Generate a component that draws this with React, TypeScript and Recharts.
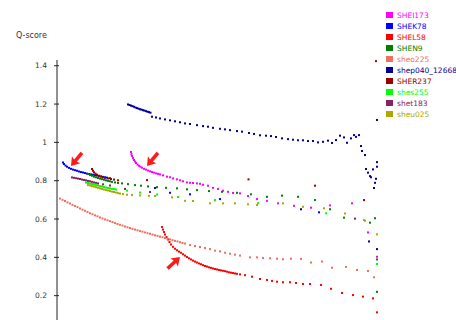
import {
  ScatterChart,
  Scatter,
  XAxis,
  YAxis,
  Legend,
  ReferenceDot,
} from "recharts";

// [position, Q-score] pairs
const shei173: [number, number][] = [
  [74, 0.95], [74.5, 0.939], [75, 0.929], [76, 0.918], [77, 0.908], [78, 0.9], [79, 0.892],
  [80.5, 0.884], [82, 0.878], [83.5, 0.873], [85, 0.868], [87, 0.862], [89, 0.858], [91, 0.853],
  [93, 0.849], [95, 0.845], [97, 0.842], [99, 0.838], [101, 0.836], [103, 0.833],
  [106, 0.828], [110, 0.821], [113, 0.818], [116, 0.812], [120, 0.807], [123, 0.802], [126, 0.797],
  [130, 0.791], [133, 0.789], [136, 0.788], [140, 0.786], [143, 0.784], [146, 0.779], [151, 0.774],
  [156, 0.763], [161, 0.757], [166, 0.748], [171, 0.742], [176, 0.736], [183, 0.734], [191, 0.72],
  [200, 0.704], [210, 0.695], [221, 0.682], [237, 0.669], [254, 0.659], [273, 0.671], [295, 0.682],
  [311, 0.53], [320, 0.403],
];

const shek78: [number, number][] = [
  [6, 0.895], [7, 0.887], [8.5, 0.879], [10, 0.873], [12, 0.867], [14, 0.862], [16, 0.858],
  [18, 0.855], [20, 0.852], [22, 0.848], [24, 0.845], [26, 0.843], [28, 0.84], [30, 0.837],
  [32, 0.835], [34, 0.833], [36, 0.831], [38, 0.829], [40, 0.827], [42, 0.824], [44, 0.822],
  [46, 0.82], [48, 0.818], [50, 0.816], [53, 0.813],
  [98, 0.762], [113, 0.737], [133, 0.729], [163, 0.704], [262, 0.635],
];

const shel58: [number, number][] = [
  [105, 0.558], [106, 0.545], [107, 0.532], [108, 0.519], [109.5, 0.506], [111, 0.493], [112.5, 0.48],
  [114, 0.467], [116, 0.455], [118, 0.445], [120, 0.437], [122, 0.43], [124, 0.424], [126, 0.416],
  [128, 0.409], [130, 0.402], [132, 0.395], [134, 0.389], [136, 0.383], [138, 0.378], [140, 0.373],
  [142, 0.368], [144, 0.364], [146, 0.359], [148, 0.355], [150, 0.352], [152, 0.348], [154, 0.345],
  [156, 0.342], [158, 0.339], [160, 0.337], [162, 0.334], [164, 0.332], [166, 0.33], [168, 0.328],
  [170, 0.325], [172, 0.322], [174, 0.32], [176, 0.318], [178, 0.316], [180, 0.314], [183, 0.311],
  [188, 0.307], [195, 0.299], [203, 0.287], [210, 0.282], [215, 0.277], [220, 0.273], [226, 0.27],
  [233, 0.27], [239, 0.266], [246, 0.261], [253, 0.261], [264, 0.256], [274, 0.236], [285, 0.214],
  [296, 0.203], [306, 0.195], [316, 0.186], [320, 0.113],
];

const shen9: [number, number][] = [
  [31, 0.835], [33, 0.83], [35, 0.826], [37, 0.821], [39, 0.818], [41, 0.814], [43, 0.811],
  [45, 0.808], [47, 0.805], [49, 0.802], [51, 0.799], [53, 0.797], [55, 0.794], [58, 0.791],
  [61, 0.788], [65, 0.786], [71, 0.782], [78, 0.777], [84, 0.774], [91, 0.77], [100, 0.766],
  [109, 0.763], [120, 0.76], [130, 0.755], [140, 0.751], [152, 0.746], [165, 0.742], [180, 0.737],
  [194, 0.729], [210, 0.716], [225, 0.722], [241, 0.716], [258, 0.699], [273, 0.651], [287, 0.607],
  [313, 0.581], [318, 0.604], [320, 0.389], [320, 0.22],
];

const sheo225: [number, number][] = [
  [3, 0.707], [5.5, 0.7], [8, 0.694], [10.5, 0.687], [13, 0.681], [15.5, 0.674], [18, 0.668],
  [20.5, 0.662], [23, 0.655], [25.5, 0.649], [28, 0.643], [30.5, 0.637], [33, 0.63], [35.5, 0.625],
  [38, 0.619], [40.5, 0.614], [43, 0.608], [45.5, 0.603], [48, 0.598], [50.5, 0.593], [53, 0.589],
  [55.5, 0.584], [58, 0.579], [60.5, 0.574], [63, 0.57], [65.5, 0.566], [68, 0.561], [70.5, 0.557],
  [73, 0.553], [75.5, 0.549], [78, 0.545], [80.5, 0.541], [83, 0.537], [85.5, 0.534], [88, 0.53],
  [90.5, 0.526], [93, 0.523], [95.5, 0.519], [98, 0.515], [100.5, 0.512], [103, 0.508], [105.5, 0.505],
  [108, 0.501], [110.5, 0.497], [113, 0.494], [115.5, 0.49], [118, 0.486], [120.5, 0.483], [123, 0.479],
  [125.5, 0.475], [128, 0.472],
  [133, 0.464], [138, 0.459], [143, 0.454], [148, 0.449], [153, 0.443], [158, 0.435], [163, 0.431],
  [168, 0.424], [173, 0.419], [178, 0.414], [183, 0.409], [193, 0.4], [200, 0.4], [206, 0.397],
  [213, 0.395], [220, 0.393], [226, 0.39], [234, 0.393], [244, 0.392], [254, 0.373], [265, 0.378],
  [275, 0.346], [289, 0.35], [300, 0.334], [311, 0.329], [317, 0.296],
];

const shep040: [number, number][] = [
  [71, 1.198], [72.5, 1.195], [74, 1.192], [75.5, 1.189], [77, 1.186], [78.5, 1.182], [80, 1.179],
  [81.5, 1.176], [83, 1.173], [84.5, 1.171], [86, 1.168], [87.5, 1.166], [89, 1.163], [90.5, 1.16],
  [92, 1.158], [93.5, 1.155],
  [95, 1.134], [99, 1.13], [103, 1.125], [108, 1.12], [113, 1.115], [118, 1.11], [123, 1.105],
  [128, 1.099], [133, 1.096], [140, 1.09], [146, 1.085], [151, 1.082], [156, 1.076], [163, 1.071],
  [168, 1.068], [173, 1.064], [180, 1.059], [185, 1.056], [192, 1.049], [197, 1.044], [203, 1.037],
  [209, 1.035], [214, 1.033], [219, 1.028], [225, 1.021], [231, 1.017], [236, 1.014], [241, 1.011],
  [246, 1.011], [251, 1.007], [256, 1.007], [261, 1.0], [266, 1.003], [271, 1.009], [275, 0.997],
  [279, 1.012], [283, 1.035], [287, 1.026], [290, 0.998], [294, 1.021], [297, 1.038], [299, 1.029],
  [302, 1.038], [304, 0.981], [305, 0.955], [308, 0.934], [309, 0.861], [311, 0.842], [313, 0.824],
  [314, 0.818], [316, 0.859], [317, 0.762], [318, 0.789], [319, 0.81], [320, 0.873], [320, 0.897],
  [320, 1.117], [244, 0.651], [312, 0.483], [320, 0.443],
];

const sher237: [number, number][] = [
  [35, 0.861], [36, 0.852], [37, 0.844], [38.5, 0.837], [40, 0.831], [42, 0.826], [44, 0.822],
  [46, 0.818], [48, 0.815], [51, 0.812], [54, 0.809], [57, 0.806], [61, 0.802],
  [90, 0.803], [191.5, 0.807], [258, 0.774], [307, 0.699], [319, 1.424],
];

const shes255: [number, number][] = [
  [29, 0.79], [31, 0.788], [33, 0.785], [35, 0.783], [37, 0.78], [39, 0.777], [41, 0.775],
  [43, 0.772], [45, 0.77], [47, 0.767], [49, 0.764], [51, 0.762], [53, 0.76], [55, 0.758],
  [57, 0.756], [59, 0.754],
  [70, 0.748], [83, 0.738], [100, 0.728], [121, 0.715], [158, 0.699], [201, 0.683], [269, 0.63],
  [307, 0.595], [320, 0.365],
];

const shet183: [number, number][] = [
  [15, 0.817], [17, 0.815], [19, 0.813], [21, 0.811], [23, 0.809], [25, 0.806], [27, 0.804],
  [29, 0.802], [31, 0.799], [33, 0.797], [35, 0.794], [37, 0.791], [39, 0.789], [41, 0.786],
  [46, 0.781], [53, 0.775], [68, 0.757], [93, 0.741], [298, 0.602],
];

const sheu025: [number, number][] = [
  [31, 0.777], [33, 0.775], [35, 0.772], [37, 0.769], [39, 0.766], [41, 0.763], [43, 0.76],
  [45, 0.757], [47, 0.754], [49, 0.751], [51, 0.749], [53, 0.746], [55, 0.743], [57, 0.741],
  [59, 0.738], [61, 0.735], [63, 0.733],
  [66, 0.73], [70, 0.727], [75, 0.725], [83, 0.723], [92, 0.721], [98, 0.72], [115, 0.713],
  [128, 0.695], [136, 0.694], [153, 0.682], [166, 0.682], [178, 0.682], [191, 0.677], [200, 0.673],
  [226, 0.682], [246, 0.664], [267, 0.656], [288, 0.629], [308, 0.591], [320, 0.52],
];

const SERIES = [
  { name: "SHEI173", color: "#ff00ff", data: shei173 },
  { name: "SHEK78", color: "#0000ff", data: shek78 },
  { name: "SHEL58", color: "#ff0000", data: shel58 },
  { name: "SHEN9", color: "#008000", data: shen9 },
  { name: "sheo225", color: "#f07060", data: sheo225 },
  { name: "shep040_12668", color: "#000099", data: shep040 },
  { name: "SHER237", color: "#990000", data: sher237 },
  { name: "shes255", color: "#00ff00", data: shes255 },
  { name: "shet183", color: "#882266", data: shet183 },
  { name: "sheu025", color: "#aaaa00", data: sheu025 },
];

const Y_TICKS = [0.2, 0.4, 0.6, 0.8, 1, 1.2, 1.4];

// arrow annotations: tip position and pointing angle (degrees)
const ARROWS = [
  { x: 14, y: 0.877, angle: 130 },
  { x: 90, y: 0.877, angle: 130 },
  { x: 123, y: 0.402, angle: -43 },
];

const FONT = "'DejaVu Sans', sans-serif";

const dot = (color: string) => (props: any) =>
  <rect x={props.cx - 1} y={props.cy - 1} width={2} height={2} fill={color} />;

function Arrow({ cx, cy, angle }: any) {
  if (cx == null || cy == null) return null;
  return (
    <polygon
      points="0,0 -8,-5.5 -7,-1.8 -17,-1.8 -17,1.8 -7,1.8 -8,5.5"
      fill="#ff1a1a"
      transform={`translate(${cx},${cy}) rotate(${angle})`}
    />
  );
}

function QTick({ x, y, payload }: any) {
  return (
    <g>
      <line x1={x - 3} x2={x + 2} y1={y} y2={y} stroke="#222" />
      <text x={x - 10} y={y} dy={2.5} textAnchor="end" fontSize={7.5} fontFamily={FONT} fill="#333">
        {String(payload.value)}
      </text>
    </g>
  );
}

function AxisTitle({ viewBox }: any) {
  return (
    <text x={16} y={viewBox.y - 22} fontSize={8} fontFamily={FONT} fill="#333">
      Q-score
    </text>
  );
}

function LegendBox() {
  return (
    <div style={{ fontFamily: FONT, fontSize: 7.5 }}>
      {SERIES.map((s) => (
        <div key={s.name} style={{ display: "flex", alignItems: "center", height: 11, whiteSpace: "nowrap" }}>
          <span style={{ width: 7, height: 6, background: s.color, marginRight: 4, flex: "none" }} />
          <span style={{ color: s.color }}>{s.name}</span>
        </div>
      ))}
    </div>
  );
}

export default function App() {
  return (
    <div style={{ position: "absolute", left: 0, top: 0, width: 456, height: 320, overflow: "hidden", background: "#fff" }}>
      <ScatterChart width={456} height={320} margin={{ top: 60, right: 69, bottom: 0, left: 0 }}>
        <XAxis type="number" dataKey="x" domain={[0, 330]} hide />
        <YAxis
          type="number"
          dataKey="y"
          domain={[0.073, 1.43]}
          allowDataOverflow
          ticks={Y_TICKS}
          width={57}
          axisLine={{ stroke: "#222" }}
          tickLine={false}
          tickSize={0}
          tickMargin={0}
          tick={<QTick />}
          label={<AxisTitle />}
        />
        <Legend
          layout="vertical"
          align="center"
          verticalAlign="middle"
          content={<LegendBox />}
          wrapperStyle={{ top: 9.5, left: 386, width: 80 }}
        />
        {SERIES.map((s) => (
          <Scatter
            key={s.name}
            name={s.name}
            data={s.data.map(([x, y]) => ({ x, y }))}
            fill={s.color}
            shape={dot(s.color)}
            isAnimationActive={false}
          />
        ))}
        {ARROWS.map((a, i) => (
          <ReferenceDot key={i} x={a.x} y={a.y} r={0} shape={(p: any) => <Arrow {...p} angle={a.angle} />} />
        ))}
      </ScatterChart>
    </div>
  );
}
